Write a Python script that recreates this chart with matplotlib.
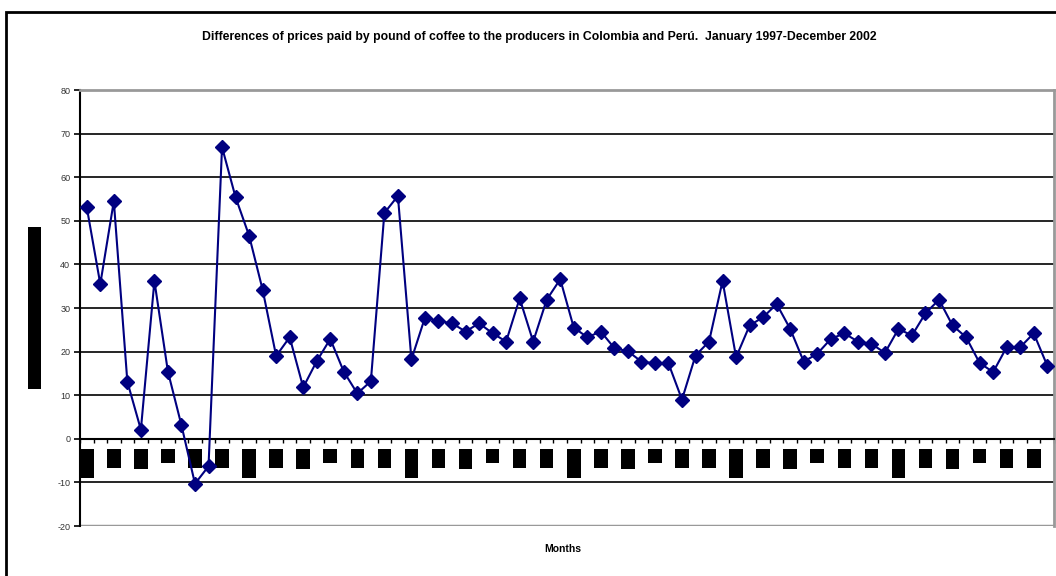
# Coffee price differences Colombia - Peru, monthly 1997-2002
import numpy as np
import matplotlib.pyplot as plt
from matplotlib.patches import Rectangle

plt.rcParams['font.family'] = ['Liberation Sans', 'DejaVu Sans']
plt.rcParams['axes.unicode_minus'] = False

# monthly values (US cents / lb), Jan 1997 .. Dec 2002
diferencias = [53.1, 35.5, 54.5, 13.1, 2.1, 36.2, 15.4, 3.1, -10.3, -6.3, 66.9, 55.4,
               46.6, 34.2, 19.0, 23.3, 11.8, 17.8, 22.9, 15.4, 10.4, 13.2, 51.8, 55.7,
               18.2, 27.8, 27.0, 26.5, 24.6, 26.5, 24.2, 22.3, 32.2, 22.3, 31.9, 36.6,
               25.5, 23.3, 24.6, 20.8, 20.1, 17.7, 17.3, 17.3, 9.0, 19.1, 22.3, 36.2,
               18.7, 26.0, 27.9, 30.9, 25.2, 17.7, 19.5, 22.9, 24.2, 22.3, 21.8, 19.7,
               25.2, 23.7, 28.8, 31.9, 26.0, 23.3, 17.4, 15.3, 21.0, 21.0, 24.2, 16.8]

anios = ['97', '98', '99', '00', '01', '02']
meses = ['Jan', 'Mar', 'May', 'Jul', 'Sep', 'Nov']
etiquetas = []
for a in anios:
    for m in meses:
        etiquetas.append(m + '-' + a if m == 'Jan' else m)

titulo = ('Differences of prices paid by pound of coffee to the producers '
          'in Colombia and Perú.  January 1997-December 2002')

x = np.arange(len(diferencias))

fig = plt.figure(figsize=(10.56, 5.76), dpi=100)
ax = fig.add_axes([80 / 1056, 50 / 576, 974 / 1056, 436 / 576])

# outer chart border
fig.patches.append(Rectangle((6 / 1056, -0.1), 1.2, (564 / 576) + 0.1,
                             transform=fig.transFigure, fill=False,
                             edgecolor='black', linewidth=2, clip_on=False))

for yv in range(-10, 80, 10):
    if yv != 0:
        ax.axhline(yv, color='black', linewidth=1.2, zorder=1)
ax.axhline(-20, color='#999999', linewidth=2.5, zorder=1)

ax.plot(x, diferencias, color='#000080', linewidth=1.5, marker='D',
        markersize=7, zorder=3, clip_on=False)

ax.set_xlim(-0.5, 71.5)
ax.set_ylim(-20, 80)
ax.set_yticks(range(-20, 81, 10))
ax.tick_params(axis='y', labelsize=6.5, labelcolor='#333333', length=4, width=1.2, pad=3)

ax.spines['bottom'].set_position(('data', 0))
ax.spines['bottom'].set_linewidth(1.5)
ax.spines['left'].set_linewidth(1.5)
for s in ['top', 'right']:
    ax.spines[s].set_color('#999999')
    ax.spines[s].set_linewidth(2)

ax.set_xticks(np.arange(0, 72, 2))
ax.set_xticks(np.arange(-0.5, 72, 1), minor=True)
ax.set_xticklabels(etiquetas, rotation=90, fontsize=5.5, color='black', va='top',
                   family='DejaVu Sans')
for t in ax.get_xticklabels():
    t.set_bbox(dict(boxstyle='square,pad=0.3', facecolor='black', edgecolor='none'))
ax.tick_params(axis='x', which='major', length=0, pad=9)
ax.tick_params(axis='x', which='minor', length=3, width=1, direction='out')

ax.set_ylabel('Difference in price (US cents per pound)', fontsize=5.6, color='black',
              family='DejaVu Sans', labelpad=13,
              bbox=dict(boxstyle='square,pad=0.25', facecolor='black', edgecolor='none'))

fig.text(0.511, 1 - 37 / 576, titulo, ha='center', va='center', fontsize=8.8,
         fontweight='bold')
fig.text(563 / 1056, 1 - 549 / 576, 'Months', ha='center', va='center', fontsize=7.5,
         fontweight='bold')

fig.savefig('out.png', dpi=100)
